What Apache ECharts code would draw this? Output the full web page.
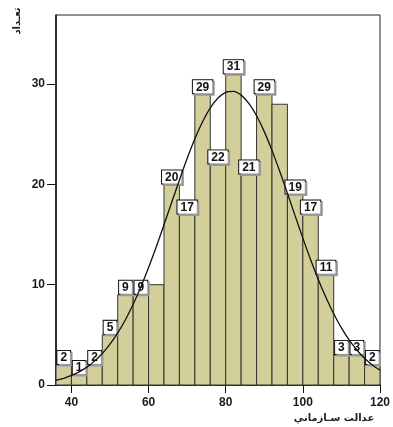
<!DOCTYPE html>
<html>
<head>
<meta charset="utf-8">
<script src="https://cdn.jsdelivr.net/npm/echarts@6/dist/echarts.min.js"></script>
<style>
html,body{margin:0;padding:0;background:#fff;}
#chart{width:393px;height:427px;}
</style>
</head>
<body>
<div id="chart"></div>
<script>
// ---- data ----
const binStarts = [36,40,44,48,52,56,60,64,68,72,76,80,84,88,92,96,100,104,108,112,116];
const binWidth = 4;
const counts = [2,1,2,5,9,9,10,20,17,29,22,31,21,29,28,19,17,11,3,3,2];
const barLabels = ['2','1','2','5','9','9',null,'20','17','29','22','31','21','29',null,'19','17','11','3','3','2'];
const curveX = [36,38,40,42,44,46,48,50,52,54,56,58,60,62,64,66,68,70,72,74,76,78,80,82,84,86,88,90,92,94,96,98,100,102,104,106,108,110,112,114,116,118,120];
const curveY = [0.47,0.67,0.95,1.31,1.78,2.38,3.14,4.07,5.19,6.51,8.05,9.78,11.71,13.79,15.98,18.22,20.44,22.58,24.55,26.26,27.64,28.63,29.19,29.28,28.91,28.08,26.85,25.27,23.40,21.32,19.12,16.87,14.65,12.52,10.53,8.72,7.10,5.69,4.49,3.49,2.66,2.00,1.48];
const xTicks = [40,60,80,100,120];
const yTicks = [0,10,20,30];
const xTitle = 'عدالت سـازماني';
const yTitle = 'تعـداد';

const histData = binStarts.map((s, i) => [s, s + binWidth, counts[i], barLabels[i]]);
const curveData = curveX.map((x, i) => [x, curveY[i]]);

const chart = echarts.init(document.getElementById('chart'), null, {renderer: 'canvas'});
const tickFont = {fontFamily: 'Liberation Sans', fontWeight: 'bold', fontSize: 12, color: '#1a1a1a'};

chart.setOption({
  animation: false,
  backgroundColor: '#fff',
  grid: {left: 56, right: 11, top: 15, bottom: 42, show: true, borderColor: '#222', borderWidth: 1, backgroundColor: 'transparent'},
  xAxis: {
    type: 'value', min: 36, max: 120,
    axisLine: {lineStyle: {color: '#111', width: 1.5}},
    axisTick: {customValues: xTicks, length: 8, lineStyle: {color: '#111', width: 1}},
    axisLabel: Object.assign({customValues: xTicks, margin: 12}, tickFont),
    splitLine: {show: false}
  },
  yAxis: {
    type: 'value', min: 0, max: 36.9,
    axisLine: {show: true, lineStyle: {color: '#111', width: 1.5}},
    axisTick: {show: true, customValues: yTicks, length: 9, lineStyle: {color: '#111', width: 1}},
    axisLabel: Object.assign({customValues: yTicks, margin: 11}, tickFont),
    splitLine: {show: false}
  },
  graphic: [
    {type: 'text', x: 334, y: 418, style: {text: xTitle, font: 'bold 10px "DejaVu Sans"', fill: '#222', align: 'center', verticalAlign: 'middle'}},
    {type: 'text', x: 17, y: 21, rotation: Math.PI / 2, style: {text: yTitle, font: 'bold 10px "DejaVu Sans"', fill: '#222', align: 'center', verticalAlign: 'middle'}}
  ],
  series: [
    {
      type: 'custom',
      clip: false,
      data: histData,
      encode: {x: [0, 1], y: 2},
      z: 2,
      renderItem: function (params, api) {
        const p0 = api.coord([api.value(0), 0]);
        const p1 = api.coord([api.value(1), api.value(2)]);
        const label = histData[params.dataIndex][3];
        const children = [{
          type: 'rect',
          shape: {x: p0[0], y: p1[1], width: p1[0] - p0[0], height: p0[1] - p1[1]},
          style: {fill: '#d3cf9b', stroke: '#333', lineWidth: 1}
        }];
        if (label) {
          children.push({
            type: 'text',
            z2: 10,
            x: (p0[0] + p1[0]) / 2,
            y: p1[1] - 1,
            style: {
              text: label,
              font: 'bold 12px "Liberation Sans"',
              fill: '#111',
              align: 'center',
              verticalAlign: 'bottom',
              backgroundColor: '#fff',
              borderColor: '#111',
              borderWidth: 1,
              padding: [1, 3, 0, 3],
              shadowColor: '#999',
              shadowOffsetX: 1.5,
              shadowOffsetY: 1.5,
              shadowBlur: 0
            }
          });
        }
        return {type: 'group', children: children};
      }
    },
    {
      type: 'line',
      data: curveData,
      z: 5,
      smooth: 0.3,
      showSymbol: false,
      symbol: 'none',
      lineStyle: {color: '#111', width: 1.3}
    }
  ]
});
</script>
</body>
</html>
